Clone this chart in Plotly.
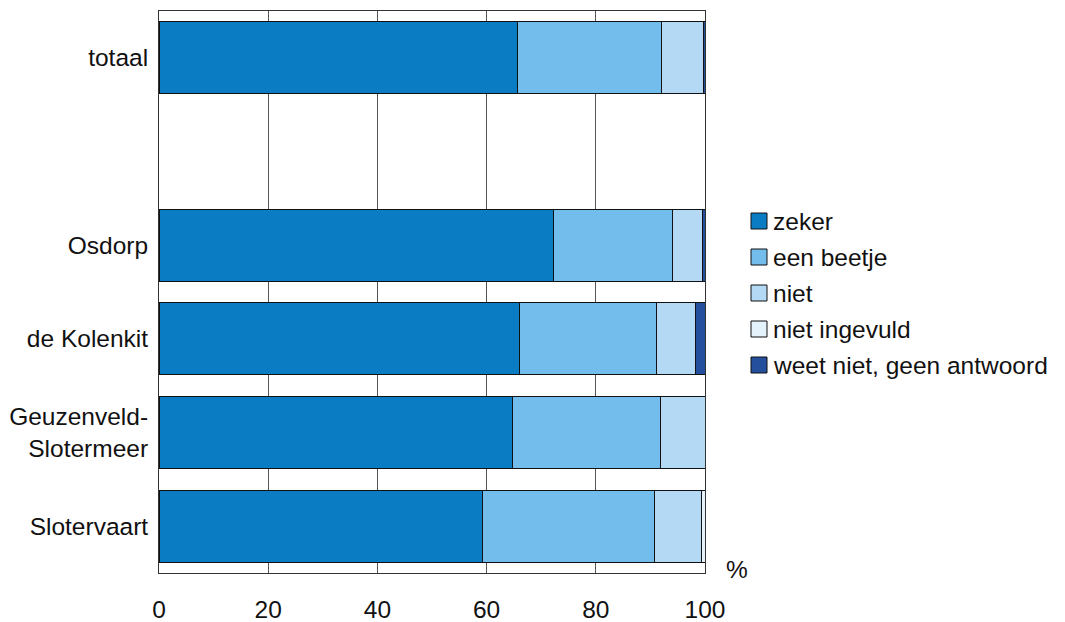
import plotly.graph_objects as go

# Gebieden (van boven naar onder); lege rij tussen totaal en de gebieden
gebieden = ["totaal", " ", "Osdorp", "de Kolenkit", "Geuzenveld-<br>Slotermeer", "Slotervaart"]

# Percentages per antwoordcategorie
zeker = [65.7, None, 72.3, 66.1, 64.8, 59.3]
een_beetje = [26.4, None, 21.8, 25.0, 27.0, 31.5]
niet = [7.6, None, 5.4, 7.1, 8.2, 8.5]
niet_ingevuld = [0.0, None, 0.0, 0.0, 0.0, 0.7]
weet_niet = [0.3, None, 0.5, 1.8, 0.0, 0.0]

reeksen = [
    ("zeker", zeker, "#0A7CC4"),
    ("een beetje", een_beetje, "#73BDEC"),
    ("niet", niet, "#B3D9F4"),
    ("niet ingevuld", niet_ingevuld, "#E4F2FC"),
    ("weet niet, geen antwoord", weet_niet, "#244F9C"),
]

x_ticks = [0, 20, 40, 60, 80, 100]

W, H = 1065, 622
L, R, T, B = 159, 360, 11, 49
plot_w, plot_h = W - L - R, H - T - B
FONT = 24.5


def px_x(px):
    return (px - L) / plot_w


def px_y(py):
    return 1 - (py - T) / plot_h


fig = go.Figure()
for naam, waarden, kleur in reeksen:
    fig.add_trace(go.Bar(
        y=gebieden, x=waarden, name=naam, orientation="h",
        marker=dict(color=kleur, line=dict(color="#111111", width=1)),
        showlegend=False,
    ))

# Legenda: gekleurde vierkantjes met tekst
shapes, annotations = [], []
for i, (naam, _, kleur) in enumerate(reeksen):
    cy = 221 + 36 * i
    shapes.append(dict(
        type="rect", xref="paper", yref="paper",
        x0=px_x(751), x1=px_x(767), y0=px_y(cy + 8), y1=px_y(cy - 8),
        fillcolor=kleur, line=dict(color="#111111", width=1),
    ))
    annotations.append(dict(
        text=naam, xref="paper", yref="paper", x=px_x(771), y=px_y(cy),
        xanchor="left", yanchor="middle", showarrow=False,
        font=dict(size=FONT),
    ))

annotations.append(dict(
    text="%", xref="paper", yref="paper", x=px_x(724), y=px_y(569),
    xanchor="left", yanchor="middle", showarrow=False, font=dict(size=FONT),
))

fig.update_layout(
    barmode="stack",
    bargap=0.232,
    width=W, height=H,
    margin=dict(l=L, r=R, t=T, b=B),
    paper_bgcolor="white", plot_bgcolor="white",
    font=dict(family="Liberation Sans, Arial, sans-serif", size=FONT, color="#111111"),
    showlegend=False,
    shapes=shapes,
    annotations=annotations,
    xaxis=dict(
        range=[0, 100], tickvals=x_ticks, ticktext=[str(t) for t in x_ticks],
        showgrid=True, gridcolor="#555555", gridwidth=1,
        showline=True, linecolor="#333333", linewidth=1, mirror=True,
        ticks="", ticklabelstandoff=15, zeroline=False, automargin=False,
    ),
    yaxis=dict(
        categoryorder="array", categoryarray=gebieden, autorange="reversed",
        showline=True, linecolor="#333333", linewidth=1, mirror=True,
        ticks="", ticklabelstandoff=5, showgrid=False, automargin=False,
    ),
)

fig.write_html("out.html")
